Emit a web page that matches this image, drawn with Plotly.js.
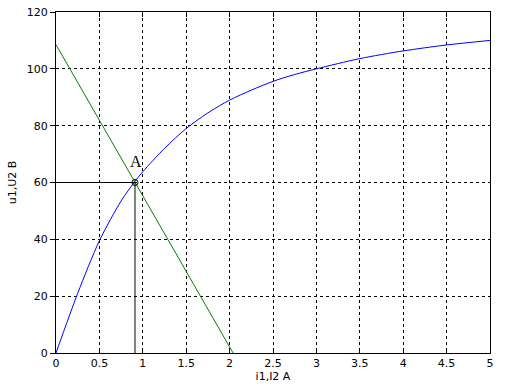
<!DOCTYPE html>
<html>
<head>
<meta charset="utf-8">
<script src="https://cdn.plot.ly/plotly-3.0.1.min.js"></script>
<style>html,body{margin:0;padding:0;background:#fff;}#chart{width:506px;height:387px;}</style>
</head>
<body>
<div id="chart"></div>
<script>
// Blue curve (u1 vs i1)
const curveI = [0, 0.25, 0.5, 0.75, 0.9, 1, 1.25, 1.5, 1.75, 2, 2.25, 2.5, 2.75, 3, 3.5, 4, 4.5, 5];
const curveU = [0, 21, 39.5, 53.5, 60, 63.8, 72, 79, 84.5, 89, 92.5, 95.6, 98, 100, 103.6, 106.3, 108.4, 110];
// Green load line (u2 vs i2)
const lineI = [0, 2.04];
const lineU = [108.5, 0];
// Operating point A
const pointI = [0.91];
const pointU = [60];
const pointLabel = ["A"];
const xTicks = [0, 0.5, 1, 1.5, 2, 2.5, 3, 3.5, 4, 4.5, 5];
const yTicks = [0, 20, 40, 60, 80, 100, 120];

const traces = [
  {x: curveI, y: curveU, type: 'scatter', mode: 'lines', line: {color: '#0000ff', width: 1, shape: 'spline', smoothing: 0.8}, hoverinfo: 'skip'},
  {x: lineI, y: lineU, type: 'scatter', mode: 'lines', line: {color: '#008000', width: 1}, hoverinfo: 'skip'},
  {x: [0, pointI[0], pointI[0]], y: [pointU[0], pointU[0], 0], type: 'scatter', mode: 'lines', line: {color: '#000000', width: 1}, hoverinfo: 'skip'},
  {x: pointI, y: pointU, type: 'scatter', mode: 'markers', marker: {symbol: 'circle-open', size: 6, color: '#000000', line: {width: 1, color: '#000000'}}, hoverinfo: 'skip'}
];

const tickFont = {family: 'DejaVu Sans, Arial, sans-serif', size: 11, color: '#000000'};

const layout = {
  width: 506, height: 387,
  margin: {l: 56, r: 16, t: 12, b: 34, pad: 0},
  paper_bgcolor: '#ffffff', plot_bgcolor: '#ffffff',
  showlegend: false,
  font: tickFont,
  xaxis: {
    range: [0, 5], tickvals: xTicks, ticktext: xTicks.map(String),
    showgrid: true, gridcolor: '#000000', griddash: '3px,3px', gridwidth: 1,
    zeroline: false, showline: true, linecolor: '#000000', linewidth: 1, mirror: 'ticks',
    ticks: 'inside', ticklen: 5, tickcolor: '#000000', tickfont: tickFont,
    title: {text: 'i1,I2 A', font: tickFont, standoff: 2}
  },
  yaxis: {
    range: [0, 120], tickvals: yTicks, ticktext: yTicks.map(String),
    showgrid: true, gridcolor: '#000000', griddash: '3px,3px', gridwidth: 1,
    zeroline: false, showline: true, linecolor: '#000000', linewidth: 1, mirror: true,
    ticks: 'outside', ticklen: 5, tickcolor: '#000000', tickfont: tickFont,
    title: {text: 'u1,U2 B', font: tickFont, standoff: 7}
  },
  annotations: [
    {x: 0.92, y: 67.3, xref: 'x', yref: 'y', text: pointLabel[0], showarrow: false,
     font: {family: 'Liberation Serif, Times New Roman, serif', size: 16, color: '#000000'}}
  ]
};

Plotly.newPlot('chart', traces, layout, {staticPlot: true, displayModeBar: false});
</script>
</body>
</html>
